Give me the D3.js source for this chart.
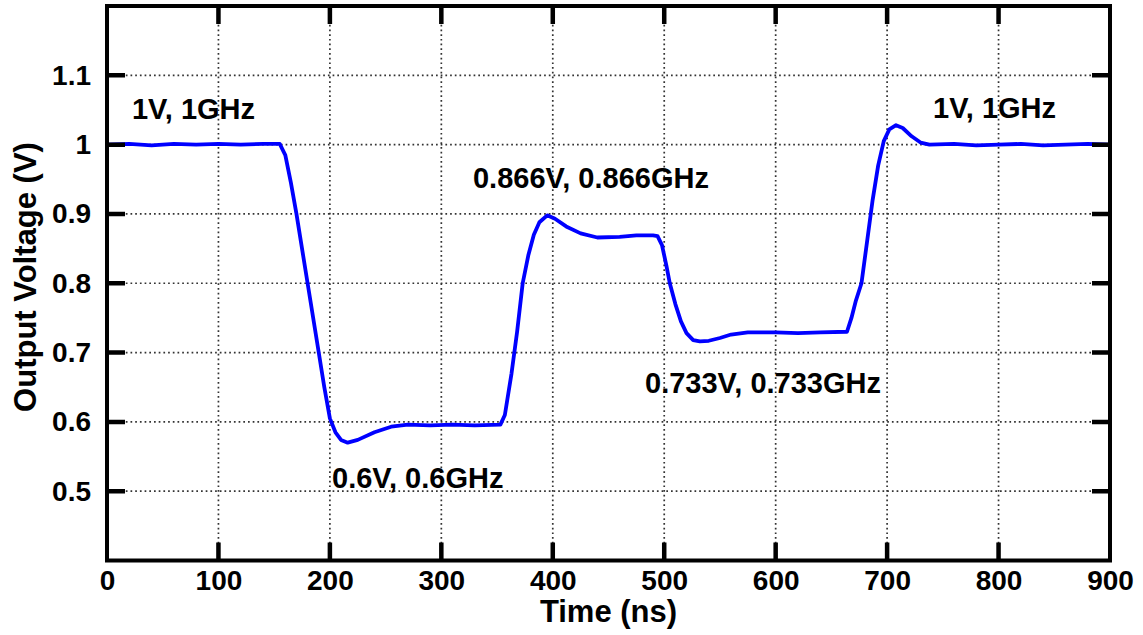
<!DOCTYPE html>
<html>
<head>
<meta charset="utf-8">
<script src="https://cdn.jsdelivr.net/npm/d3@7/dist/d3.min.js"></script>
<style>
  html, body { margin: 0; padding: 0; background: #fff; }
  svg { display: block; }
  text { font-family: "Liberation Sans", Arial, sans-serif; font-weight: bold; fill: #000; }
</style>
</head>
<body>
<svg id="chart" width="1143" height="635"></svg>
<script>
// ---- data ----
const timeNs = [0, 20, 40, 60, 80, 100, 120, 140, 155, 160, 165, 170, 180, 190, 195, 200, 205, 210, 216, 225, 240, 255, 270, 290, 310, 330, 353,
  357, 363, 368, 373, 378, 383, 388, 395, 402, 412, 425, 440, 460, 475, 490, 494,
  498, 502, 505, 510, 515, 520, 526, 532, 540, 550, 560, 575, 600, 620, 640, 664,
  668, 672, 677, 682, 687, 692, 697, 702, 708, 714, 722, 730, 738, 760, 780, 800, 820, 840, 860, 880, 900];
const voltage = [1.000, 1.001, 0.999, 1.001, 1.000, 1.001, 1.000, 1.001, 1.001, 0.985, 0.945, 0.900, 0.800, 0.700, 0.650, 0.605, 0.585, 0.574, 0.570, 0.574, 0.585, 0.593, 0.596, 0.595, 0.596, 0.595, 0.596,
  0.610, 0.670, 0.730, 0.800, 0.840, 0.870, 0.888, 0.898, 0.893, 0.882, 0.872, 0.866, 0.867, 0.869, 0.869, 0.868,
  0.855, 0.825, 0.800, 0.770, 0.745, 0.728, 0.718, 0.716, 0.717, 0.721, 0.726, 0.729, 0.729, 0.728, 0.729, 0.730,
  0.750, 0.775, 0.800, 0.860, 0.920, 0.970, 1.005, 1.022, 1.028, 1.024, 1.012, 1.003, 1.000, 1.001, 0.999, 1.000, 1.001, 0.999, 1.000, 1.001, 1.000];
const xTicks = [0, 100, 200, 300, 400, 500, 600, 700, 800, 900];
const yTicks = [0.5, 0.6, 0.7, 0.8, 0.9, 1, 1.1];
const yTickLabels = ["0.5", "0.6", "0.7", "0.8", "0.9", "1", "1.1"];
const annotationText = ["1V, 1GHz", "0.866V, 0.866GHz", "0.733V, 0.733GHz", "0.6V, 0.6GHz", "1V, 1GHz"];
const annotationTime = [22.4, 328.4, 482.8, 201.9, 741.2];
const annotationVolt = [1.037, 0.937, 0.641, 0.504, 1.038];
const xLabel = "Time (ns)";
const yLabel = "Output Voltage (V)";

// ---- layout ----
const L = 107, R = 1110, T = 6, B = 560.5;
const svg = d3.select("#chart");
const x = d3.scaleLinear().domain([0, 900]).range([L, R]);
const y = d3.scaleLinear().domain([0.4, 1.2]).range([B, T]);

// grid
const grid = svg.append("g").attr("stroke", "#333").attr("stroke-width", 1.7).attr("stroke-dasharray", "1.7,3");
grid.selectAll("line.v").data(xTicks.slice(1, -1)).join("line").attr("class", "v")
  .attr("x1", d => x(d)).attr("x2", d => x(d)).attr("y1", T).attr("y2", B);
grid.selectAll("line.h").data(yTicks).join("line").attr("class", "h")
  .attr("x1", L).attr("x2", R).attr("y1", d => y(d)).attr("y2", d => y(d));

// line
const line = d3.line().x((d, i) => x(timeNs[i])).y((d, i) => y(voltage[i]));
svg.append("path").datum(voltage).attr("d", line)
  .attr("fill", "none").attr("stroke", "#0000ff").attr("stroke-width", 3.8).attr("stroke-linejoin", "round");

// tick labels via axes (no lines), ticks drawn inward explicitly
const axStyle = g => {
  g.select(".domain").remove();
  g.selectAll(".tick line").remove();
  g.selectAll("text").attr("font-family", "Liberation Sans, Arial, sans-serif").attr("font-weight", "bold").attr("font-size", 28).attr("fill", "#000");
};
svg.append("g").attr("transform", `translate(0,${B})`)
  .call(d3.axisBottom(x).tickValues(xTicks).tickSize(0).tickPadding(10).tickFormat(d3.format("d")))
  .call(axStyle);
svg.append("g").attr("transform", `translate(${L},0)`)
  .call(d3.axisLeft(y).tickValues(yTicks).tickSize(0).tickPadding(16).tickFormat((d, i) => yTickLabels[i]))
  .call(axStyle);

const tickLen = 18;
const tickG = svg.append("g").attr("stroke", "#000").attr("stroke-width", 4.5).attr("fill", "none");
const tickPath = [];
xTicks.slice(1, -1).forEach(d => {
  tickPath.push(`M${x(d)},${B}V${B - tickLen}`);
  tickPath.push(`M${x(d)},${T}V${T + tickLen}`);
});
yTicks.forEach(d => {
  tickPath.push(`M${L},${y(d)}H${L + tickLen}`);
  tickPath.push(`M${R},${y(d)}H${R - tickLen}`);
});
tickG.append("path").attr("d", tickPath.join(""));

// frame
svg.append("rect").attr("x", L).attr("y", T).attr("width", R - L).attr("height", B - T)
  .attr("fill", "none").attr("stroke", "#000").attr("stroke-width", 4);

// annotations
svg.selectAll("text.ann").data(annotationText).join("text").attr("class", "ann")
  .attr("x", (d, i) => x(annotationTime[i])).attr("y", (d, i) => y(annotationVolt[i]))
  .attr("font-size", 29).text(d => d);

// axis titles
svg.append("text").attr("x", (L + R) / 2).attr("y", 622).attr("text-anchor", "middle")
  .attr("font-size", 31).text(xLabel);
svg.append("text").attr("transform", `translate(36,277) rotate(-90)`).attr("text-anchor", "middle")
  .attr("font-size", 31).text(yLabel);
</script>
</body>
</html>
